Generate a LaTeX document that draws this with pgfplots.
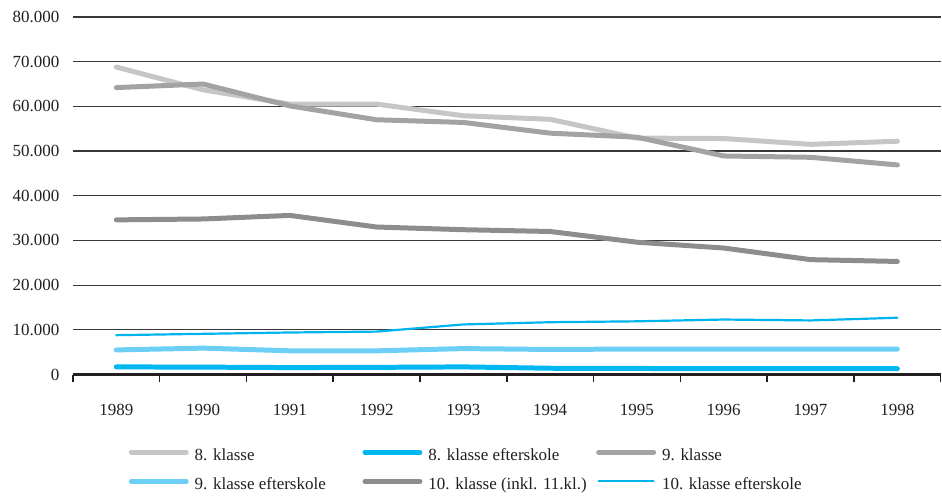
\documentclass[border=0pt]{standalone}
\usepackage{fontspec}
\setmainfont{Liberation Serif}
\usepackage{pgfplots}
\pgfplotsset{compat=1.18}
\definecolor{c8}{HTML}{C6C6C6}
\definecolor{c8e}{HTML}{00B8F1}
\definecolor{c9}{HTML}{A3A3A5}
\definecolor{c9e}{HTML}{6DCFF6}
\definecolor{c10}{HTML}{8D8D8F}
\definecolor{c10e}{HTML}{00B4EE}
\definecolor{axk}{HTML}{231F20}
\begin{document}
\begin{tikzpicture}
\begin{axis}[
  at={(0pt,0pt)}, anchor=south west,
  scale only axis,
  width=869pt, height=358pt,
  xmin=1988.5, xmax=1998.5,
  ymin=0, ymax=80000,
  axis x line*=bottom,
  axis y line*=left,
  y axis line style={draw=none},
  x axis line style={line width=2.5pt, color=axk, -},
  xtick={1989,...,1998},
  minor xtick={1988.5,1989.5,...,1998.5},
  xtick align=outside,
  major x tick style={draw=none},
  minor x tick style={line width=1.6pt, color=axk},
  minor tick length=8pt,
  ytick={0,10000,...,80000},
  ytick style={draw=none},
  ymajorgrids,
  major grid style={line width=1.2pt, color=black!78},
  scaled y ticks=false,
  /pgf/number format/.cd, 1000 sep={.}, assume math mode=true, /pgfplots/.cd,
  xticklabel={\pgfmathprintnumber[1000 sep={}]{\tick}},
  ticklabel style={font=\fontsize{17}{20}\selectfont, text=axk},
  xticklabel style={yshift=-22pt},
  yticklabel style={xshift=-10pt},
  clip=false,
  legend columns=3,
  legend cell align=left,
  legend style={at={(0,0)}, anchor=north west, xshift=56pt, yshift=-70pt,
    draw=none, fill=none, inner sep=0pt, outer sep=0pt,
    font=\fontsize{17}{20}\selectfont, text=axk,
    row sep=5pt,
    nodes={text height=12pt, text depth=4pt, inner sep=4pt},
    /tikz/every odd column/.append style={column sep=2pt}},
  legend image code/.code={\draw[#1, line cap=round] (0pt,4pt) -- (55pt,4pt);},
  every axis plot/.append style={line cap=round, line join=round},
]
\addplot[c8, line width=5pt] coordinates {(1989,68800) (1990,63700) (1991,60500) (1992,60500) (1993,57900) (1994,57100) (1995,52900) (1996,52800) (1997,51500) (1998,52200)};
\addlegendentry{\makebox[164pt][l]{8. klasse}}
\addplot[c8e, line width=5pt] coordinates {(1989,1700) (1990,1650) (1991,1550) (1992,1600) (1993,1700) (1994,1400) (1995,1350) (1996,1300) (1997,1300) (1998,1300)};
\addlegendentry{\makebox[164pt][l]{8. klasse efterskole}}
\addplot[c9, line width=5pt] coordinates {(1989,64200) (1990,65000) (1991,60100) (1992,57000) (1993,56400) (1994,54000) (1995,53100) (1996,48900) (1997,48600) (1998,46900)};
\addlegendentry{\makebox[164pt][l]{9. klasse}}
\addplot[c9e, line width=5pt] coordinates {(1989,5500) (1990,5900) (1991,5300) (1992,5300) (1993,5800) (1994,5600) (1995,5700) (1996,5700) (1997,5700) (1998,5700)};
\addlegendentry{\makebox[164pt][l]{9. klasse efterskole}}
\addplot[c10, line width=5pt] coordinates {(1989,34600) (1990,34800) (1991,35600) (1992,33000) (1993,32400) (1994,32000) (1995,29600) (1996,28300) (1997,25700) (1998,25300)};
\addlegendentry{\makebox[164pt][l]{10. klasse (inkl. 11.kl.)}}
\addplot[c10e, line width=2.2pt] coordinates {(1989,8800) (1990,9100) (1991,9400) (1992,9600) (1993,11200) (1994,11700) (1995,11900) (1996,12300) (1997,12100) (1998,12700)};
\addlegendentry{\makebox[164pt][l]{10. klasse efterskole}}
\end{axis}
\path[use as bounding box] (-73pt,-128pt) rectangle (869pt,375pt);
\end{tikzpicture}
\end{document}
